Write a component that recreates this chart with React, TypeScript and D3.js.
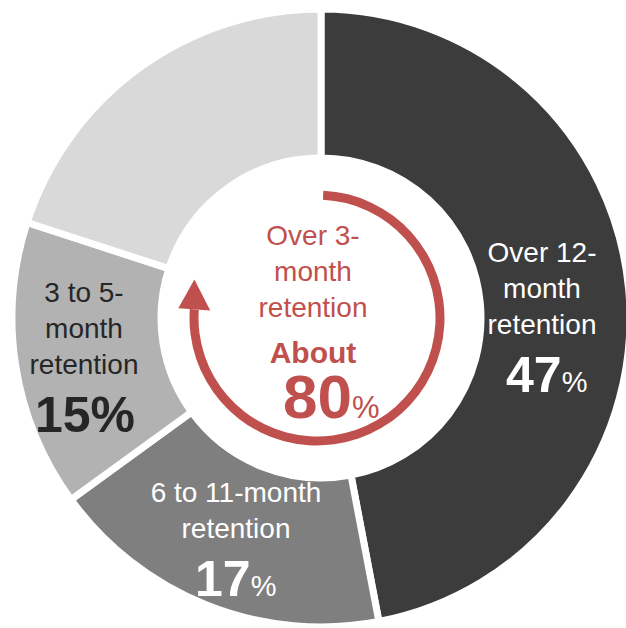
import React from "react";
import * as d3 from "d3";

const categories = ["Over 12-month retention", "6 to 11-month retention", "3 to 5-month retention", "Under 3-month"];
const values = [47, 18, 15, 20];
const pctLabels = ["47", "17", "15", ""];
const sliceColors = ["#3c3c3c", "#7f7f7f", "#b2b2b2", "#d9d9d9"];
const centerLines = ["Over 3-", "month", "retention"];
const centerPct = "80";

const W = 626;
const H = 628;
const FONT = "'Liberation Sans', Arial, sans-serif";
const RED = "#c0504d";

export default function App() {
  const cx = 321, cy = 318;
  const pie = d3.pie<number>().sort(null).value((d) => d);
  const arcs = pie(values);
  const arcGen = d3.arc<d3.PieArcDatum<number>>().innerRadius(160).outerRadius(309);

  // red arrow arc
  const acx = 317, acy = 318, ar = 123;
  const a0 = 0.05, a1 = (274 / 180) * Math.PI;
  const redArc = d3.arc()({ innerRadius: ar - 4.5, outerRadius: ar + 4.5, startAngle: a0, endAngle: a1 } as any) as string;
  const bx = acx + ar * Math.sin(a1), by = acy - ar * Math.cos(a1);
  const tx = Math.cos(a1), ty = Math.sin(a1);
  const nx = Math.sin(a1), ny = -Math.cos(a1);
  const head = [
    [bx + 16 * nx, by + 16 * ny],
    [bx - 16 * nx, by - 16 * ny],
    [bx + 30 * tx - 2, by + 30 * ty],
  ];

  const lineLabel = (lines: string[], x: number, y0: number, fill: string, key: string) =>
    lines.map((l, i) => (
      <text key={key + i} x={x} y={y0 + i * 36} textAnchor="middle" fill={fill} fontSize={28} fontFamily={FONT}>
        {l}
      </text>
    ));

  return (
    <svg width={W} height={H} style={{ position: "absolute", left: 0, top: 0 }} overflow="hidden">
      <rect width={W} height={H} fill="#fff" />
      <g transform={`translate(${cx},${cy})`}>
        {arcs.map((a, i) => (
          <path key={categories[i]} d={arcGen(a) as string} fill={sliceColors[i]} stroke="#fff" strokeWidth={7} />
        ))}
      </g>
      <g transform={`translate(${acx},${acy})`}>
        <path d={redArc} fill={RED} />
      </g>
      <polygon points={head.map((p) => p.join(",")).join(" ")} fill={RED} />

      {lineLabel(centerLines, 313, 245, RED, "c")}
      <text x={313} y={363} textAnchor="middle" fill={RED} fontSize={30} fontWeight="bold" fontFamily={FONT}>About</text>
      <text x={283} y={418} fill={RED} fontFamily={FONT}>
        <tspan fontSize={62} fontWeight="bold">{centerPct}</tspan>
        <tspan fontSize={31}>%</tspan>
      </text>

      {lineLabel(["Over 12-", "month", "retention"], 542, 262, "#fff", "r")}
      <text x={506} y={392} fill="#fff" fontFamily={FONT}>
        <tspan fontSize={50} fontWeight="bold">{pctLabels[0]}</tspan>
        <tspan fontSize={29}>%</tspan>
      </text>

      {lineLabel(["6 to 11-month", "retention"], 236, 502, "#fff", "b")}
      <text x={195} y={596} fill="#fff" fontFamily={FONT}>
        <tspan fontSize={50} fontWeight="bold">{pctLabels[1]}</tspan>
        <tspan fontSize={29}>%</tspan>
      </text>

      {lineLabel(["3 to 5-", "month", "retention"], 84, 302, "#262626", "l")}
      <text x={85} y={432} textAnchor="middle" fill="#262626" fontSize={50} fontWeight="bold" fontFamily={FONT}>
        {pctLabels[2]}%
      </text>
    </svg>
  );
}
